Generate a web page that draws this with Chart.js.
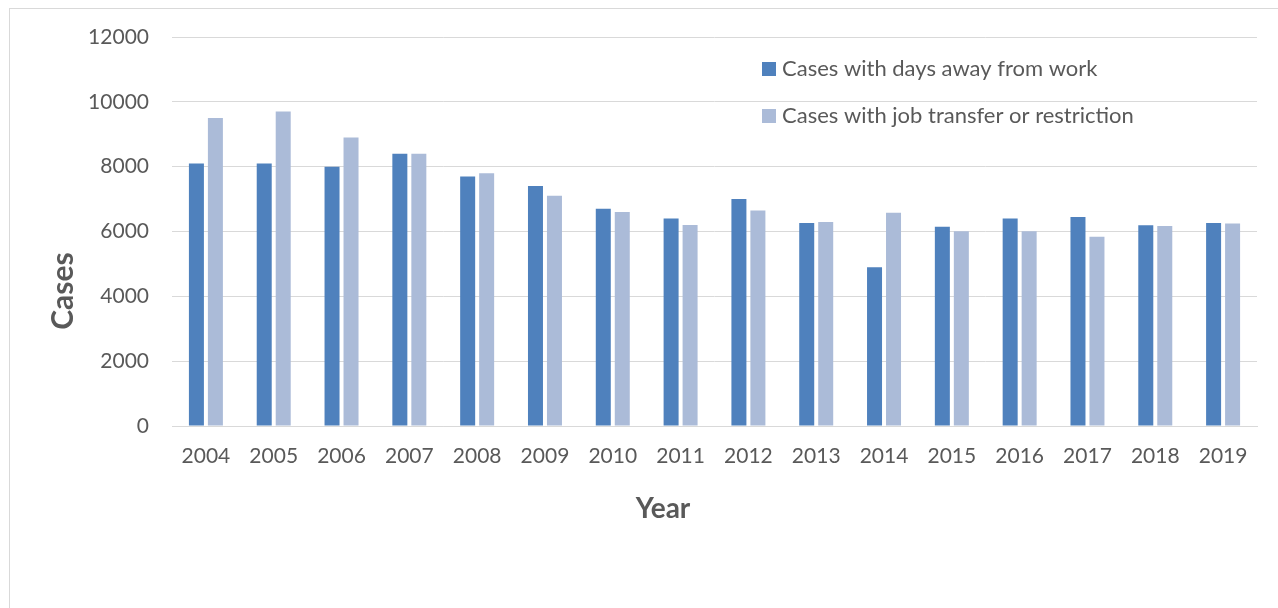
<!DOCTYPE html>
<html>
<head>
<meta charset="utf-8">
<title>Cases by year</title>
<script src="https://cdn.jsdelivr.net/npm/chart.js@4/dist/chart.umd.min.js"></script>
<style>
  html, body { margin: 0; padding: 0; background: #fff; overflow: hidden; }
  #frame {
    position: absolute; left: 9px; top: 8px; width: 1290px; height: 620px;
    border: 1px solid #d9d9d9; box-sizing: border-box;
  }
  #chart { position: absolute; left: 0; top: 0; }
</style>
</head>
<body>
<div id="frame"></div>
<canvas id="chart" width="1278" height="608"></canvas>
<script>
const years = ["2004", "2005", "2006", "2007", "2008", "2009", "2010", "2011",
  "2012", "2013", "2014", "2015", "2016", "2017", "2018", "2019"];
const daysAway = [8100, 8100, 8000, 8400, 7700, 7400, 6700, 6400,
  7000, 6260, 4900, 6150, 6400, 6450, 6190, 6260];
const jobTransfer = [9500, 9700, 8900, 8400, 7800, 7100, 6600, 6200,
  6650, 6290, 6580, 6010, 6010, 5840, 6170, 6250];
const seriesNames = ["Cases with days away from work", "Cases with job transfer or restriction"];
const seriesColors = ["#4f81bd", "#abbbd8"];
const yMax = 12000;
const yStep = 2000;
const xTitle = "Year";
const yTitle = "Cases";

const textColor = "#595959";
const gridColor = "#d9d9d9";
const fontFamily = "Lato, 'Open Sans', sans-serif";

// legend in the upper right of the plot, two rows
const legendPlugin = {
  id: "sideLegend",
  afterDraw(chart) {
    const ctx = chart.ctx;
    ctx.save();
    ctx.font = "22px " + fontFamily;
    ctx.textBaseline = "middle";
    ctx.textAlign = "left";
    chart.data.datasets.forEach((ds, i) => {
      const y = 69 + i * 47;
      ctx.fillStyle = ds.backgroundColor;
      ctx.fillRect(762, y - 7, 14, 14);
      ctx.fillStyle = textColor;
      ctx.fillText(ds.label, 782, y);
    });
    ctx.restore();
  }
};

// axis titles, placed like the spreadsheet original
const axisTitlePlugin = {
  id: "axisTitles",
  afterDraw(chart) {
    const ctx = chart.ctx;
    ctx.save();
    ctx.font = "bold 28px " + fontFamily;
    ctx.fillStyle = textColor;
    ctx.textAlign = "center";
    ctx.textBaseline = "middle";
    ctx.fillText(xTitle, 663, 509);
    ctx.translate(63, 291);
    ctx.rotate(-Math.PI / 2);
    ctx.font = "bold 30px " + fontFamily;
    ctx.fillText(yTitle, 0, 0);
    ctx.restore();
  }
};

new Chart(document.getElementById("chart"), {
  type: "bar",
  data: {
    labels: years,
    datasets: [
      { label: seriesNames[0], data: daysAway, backgroundColor: seriesColors[0] },
      { label: seriesNames[1], data: jobTransfer, backgroundColor: seriesColors[1] }
    ]
  },
  options: {
    responsive: false,
    animation: false,
    devicePixelRatio: 1,
    layout: { padding: { left: 0, top: 37, right: 21, bottom: 0 } },
    datasets: {
      bar: { categoryPercentage: 0.56, barPercentage: 0.79 }
    },
    plugins: {
      legend: { display: false },
      tooltip: { enabled: false }
    },
    scales: {
      x: {
        afterFit: scale => { scale.height = 182; },
        grid: { display: false, drawTicks: false },
        border: { display: true, color: gridColor, width: 1 },
        ticks: { color: textColor, font: { family: fontFamily, size: 21 }, padding: 18 }
      },
      y: {
        min: 0,
        max: yMax,
        afterFit: scale => { scale.width = 172; },
        grid: { color: gridColor, lineWidth: 1, drawTicks: false },
        border: { display: false },
        ticks: {
          stepSize: yStep,
          color: textColor,
          font: { family: fontFamily, size: 21 },
          padding: 23,
          callback: v => String(v)
        }
      }
    }
  },
  plugins: [legendPlugin, axisTitlePlugin]
});
</script>
</body>
</html>
